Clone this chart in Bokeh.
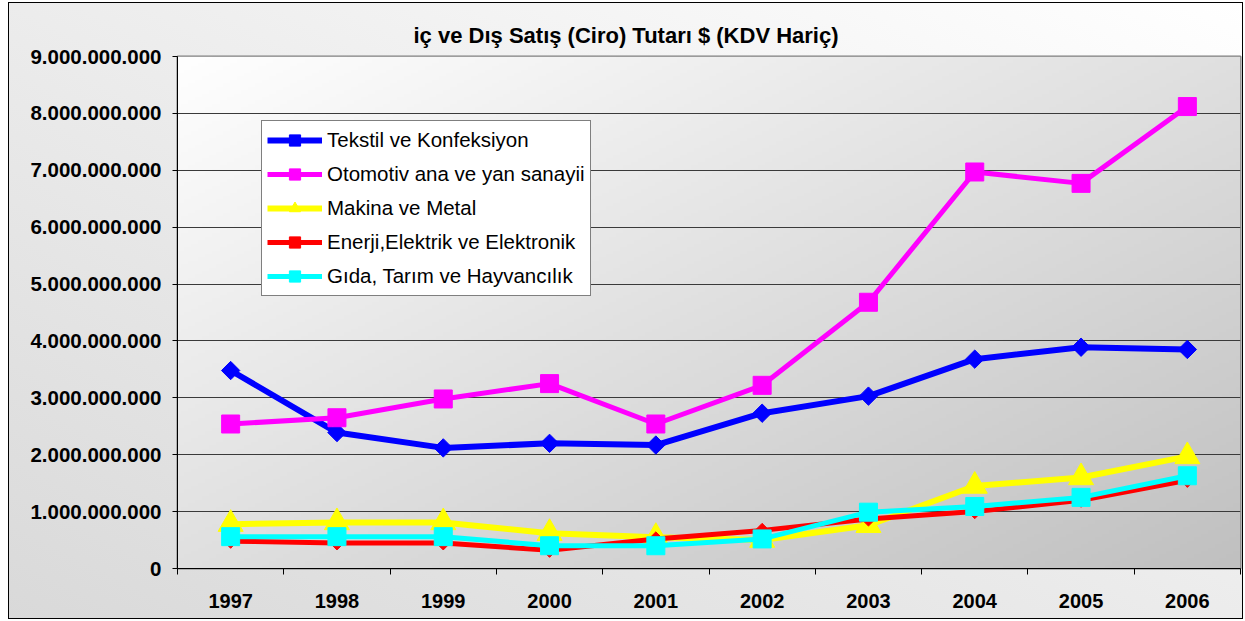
import numpy as np
from bokeh.plotting import figure
from bokeh.models import Range1d, FixedTicker
from bokeh.embed import file_html
from bokeh.resources import INLINE

years = [1997, 1998, 1999, 2000, 2001, 2002, 2003, 2004, 2005, 2006]
year_labels = [str(y) for y in years]

tekstil = [3.48e9, 2.39e9, 2.12e9, 2.20e9, 2.17e9, 2.73e9, 3.03e9, 3.68e9, 3.89e9, 3.85e9]
otomotiv = [2.54e9, 2.65e9, 2.98e9, 3.25e9, 2.54e9, 3.22e9, 4.68e9, 6.97e9, 6.77e9, 8.12e9]
makina = [0.78e9, 0.81e9, 0.81e9, 0.62e9, 0.55e9, 0.50e9, 0.76e9, 1.45e9, 1.60e9, 1.97e9]
enerji = [0.48e9, 0.45e9, 0.45e9, 0.32e9, 0.52e9, 0.67e9, 0.87e9, 1.00e9, 1.20e9, 1.55e9]
gida = [0.56e9, 0.56e9, 0.56e9, 0.40e9, 0.40e9, 0.52e9, 0.99e9, 1.09e9, 1.25e9, 1.63e9]

series_names = ["Tekstil ve Konfeksiyon", "Otomotiv ana ve yan sanayii", "Makina ve Metal",
                "Enerji,Elektrik ve Elektronik", "Gıda, Tarım ve Hayvancılık"]

y_ticks = [0, 1e9, 2e9, 3e9, 4e9, 5e9, 6e9, 7e9, 8e9, 9e9]
y_tick_labels = ["0", "1.000.000.000", "2.000.000.000", "3.000.000.000", "4.000.000.000",
                 "5.000.000.000", "6.000.000.000", "7.000.000.000", "8.000.000.000", "9.000.000.000"]

title_text = "iç ve Dış Satış (Ciro) Tutarı $ (KDV Hariç)"
FONT = "Liberation Sans"

x_lo, x_hi = years[0] - 0.5, years[-1] + 0.5
p = figure(width=1245, height=621, output_backend="svg", toolbar_location=None,
           x_range=Range1d(x_lo, x_hi), y_range=Range1d(y_ticks[0], y_ticks[-1]),
           min_border_left=177, min_border_right=5, min_border_top=56, min_border_bottom=53)
p.border_fill_color = None
p.background_fill_color = "#e0e0e0"
p.outline_line_color = "#7f7f7f"
p.outline_line_width = 2
p.styles = {"background": (
    "linear-gradient(#000,#000) 8px 2px / 1235px 1px no-repeat, "
    "linear-gradient(#000,#000) 8px 618px / 1235px 1px no-repeat, "
    "linear-gradient(#000,#000) 8px 2px / 1px 617px no-repeat, "
    "linear-gradient(#000,#000) 1242px 2px / 1px 617px no-repeat, "
    "linear-gradient(to bottom left, #ffffff, #d9d9d9) 8px 2px / 1235px 617px no-repeat, "
    "#ffffff")}

# title
p.title.text = title_text
p.title.align = "left"
p.title.offset = 236
p.title.standoff = 18
p.title.text_font = FONT
p.title.text_font_style = "bold"
p.title.text_font_size = "22px"
p.title.text_color = "#000000"

# gradient background of plot area (decoration)
nx, ny = 300, 150
u = np.linspace(0, 1, nx)[None, :]
v = np.linspace(0, 1, ny)[:, None]
t = (u + (1 - v)) / 2.0
g = (255 - t * (255 - 192)).astype(np.uint32)
img = (255 << 24) | (g << 16) | (g << 8) | g
bg = p.image_rgba(image=[img.astype(np.uint32)], x=x_lo, y=y_ticks[0],
                  dw=x_hi - x_lo, dh=y_ticks[-1] - y_ticks[0])
bg.level = "image"

# grid
p.xgrid.visible = False
p.ygrid.ticker = FixedTicker(ticks=y_ticks)
p.ygrid.grid_line_color = "#3a3a3a"
p.ygrid.grid_line_width = 1

# axes
xa = p.xaxis[0]
xa.ticker = FixedTicker(ticks=years, minor_ticks=[y - 0.5 for y in years] + [years[-1] + 0.5])
xa.major_label_overrides = {y: l for y, l in zip(years, year_labels)}
xa.major_tick_out = 0
xa.major_tick_in = 0
xa.minor_tick_out = 6
xa.minor_tick_in = 0
xa.minor_tick_line_color = "#000000"
xa.axis_line_color = "#000000"
xa.major_label_text_font = FONT
xa.major_label_text_font_style = "bold"
xa.major_label_text_font_size = "20px"
xa.major_label_text_color = "#000000"
xa.major_label_standoff = 19

ya = p.yaxis[0]
ya.ticker = FixedTicker(ticks=y_ticks)
ya.major_label_overrides = {float(v): l for v, l in zip(y_ticks, y_tick_labels)}
ya.major_tick_out = 5
ya.major_tick_in = 0
ya.minor_tick_out = 0
ya.minor_tick_in = 0
ya.major_tick_line_color = "#000000"
ya.axis_line_color = "#000000"
ya.major_label_text_font = FONT
ya.major_label_text_font_style = "bold"
ya.major_label_text_font_size = "20.5px"
ya.major_label_text_color = "#000000"
ya.major_label_standoff = 11

# series
specs = [
    (tekstil, "#0000ff", 6, "square", 13, np.pi / 4),
    (otomotiv, "#ff00ff", 5, "square", 18, 0.0),
    (makina, "#ffff00", 6, "triangle", 25, 0.0),
    (enerji, "#ff0000", 5, "square", 10, np.pi / 4),
    (gida, "#00ffff", 5, "square", 18, 0.0),
]
for name, (vals, col, lw, mk, sz, ang) in zip(series_names, specs):
    p.line(years, vals, line_color=col, line_width=lw, legend_label=name)
    p.scatter(years, vals, marker=mk, size=sz, angle=ang, fill_color=col, line_color=col,
              legend_label=name)

lg = p.legend[0]
lg.location = (84, 272)
lg.label_text_font = FONT
lg.label_text_font_size = "20.5px"
lg.label_text_color = "#000000"
lg.glyph_width = 55
lg.glyph_height = 28
lg.label_height = 28
lg.spacing = 6
lg.padding = 5
lg.label_standoff = 5
lg.border_line_color = "#000000"
lg.border_line_width = 1
lg.background_fill_color = "#ffffff"
lg.background_fill_alpha = 1.0
lg.margin = 0

open("out.html", "w").write(file_html(p, INLINE))
